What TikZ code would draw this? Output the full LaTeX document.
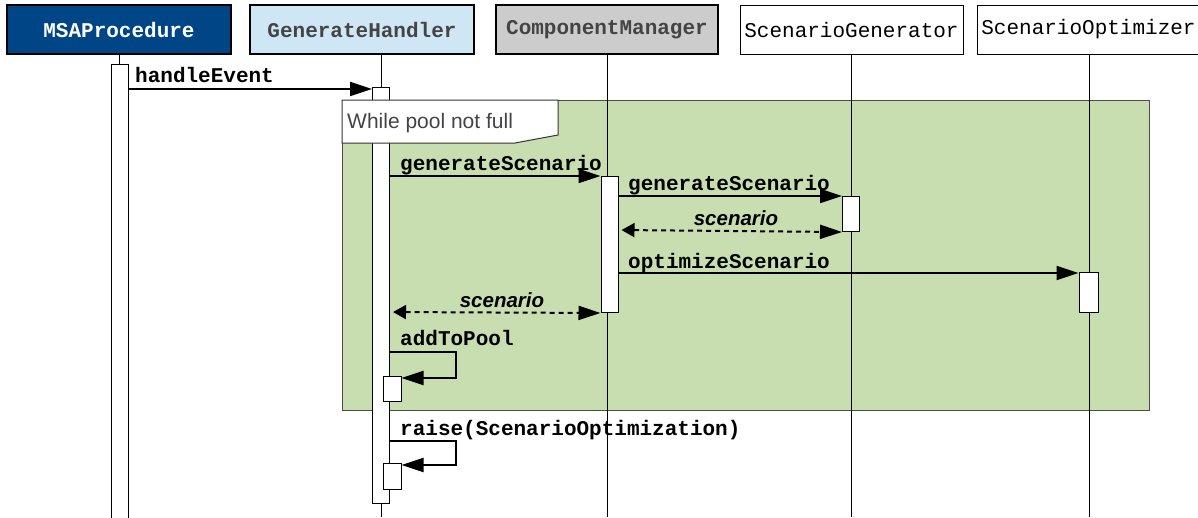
\documentclass[tikz,border=0pt]{standalone}
\usepackage{fontspec}
\setmainfont{Liberation Sans}
\newfontfamily\courfont{Liberation Mono}
\usetikzlibrary{arrows.meta,positioning,calc}
\definecolor{msablue}{RGB}{0,69,134}
\definecolor{handlerblue}{RGB}{207,231,245}
\definecolor{mgrgray}{RGB}{204,204,204}
\definecolor{loopgreen}{RGB}{201,222,176}
\definecolor{textgray}{RGB}{68,68,68}

\begin{document}
\begin{tikzpicture}[x=1pt,y=-1pt,
    hdr/.style={draw,line width=2pt,minimum width=224pt,minimum height=49pt,inner sep=0pt,font=\courfont\bfseries\fontsize{21}{25}\selectfont},
    obj/.style={hdr,line width=1pt,font=\courfont\fontsize{21}{25}\selectfont},
    act/.style={draw,fill=white,line width=1pt,minimum width=17pt,inner sep=0pt,anchor=north},
    life/.style={line width=1pt},
    msg/.style={line width=2pt,-{Triangle[length=22pt,width=14pt]}},
    reply/.style={line width=2pt,dash pattern=on 5pt off 4pt,{Triangle[length=13pt,width=14pt]}-{Triangle[length=22pt,width=14pt]}},
    lbl/.style={anchor=base west,inner sep=0pt,font=\courfont\bfseries\fontsize{21}{25}\selectfont},
    ret/.style={anchor=base,inner sep=0pt,font=\bfseries\itshape\fontsize{20.5}{24}\selectfont}]
    \useasboundingbox (0,0) rectangle (1198,517);
    \clip (0,0) rectangle (1198,517);

    \node[hdr,fill=msablue,text=white]                        (msa) at (119,29.5)    {MSAProcedure};
    \node[hdr,fill=handlerblue,text=textgray]                 (gh)  at (362,29.5)    {GenerateHandler};
    \node[hdr,fill=mgrgray,text=textgray,minimum width=222pt] (cm)  at (607,29.5)    {ComponentManager};
    \node[obj,minimum width=223pt]                            (sg)  at (851.5,29.5)  {ScenarioGenerator};
    \node[obj,minimum width=223pt]                            (so)  at (1088.5,29.5) {ScenarioOptimizer};

    \node[draw=black!70,fill=loopgreen,line width=1pt,minimum width=807pt,minimum height=310pt,anchor=north west] (loop) at (342,100) {};

    \foreach \n/\x in {msa/119,gh/381,cm/607,sg/851,so/1089}
        \draw[life] (\n.south -| \x,0) -- (\x,517);

    \node[act,minimum height=460pt]                  (msaact) at (119.5,64)  {};
    \node[act,minimum height=416pt]                  (ghact)  at (381,87)    {};
    \node[act,minimum height=136pt]                  (cmact)  at (609.5,176) {};
    \node[act,minimum height=35pt]                   (sgact)  at (851,196)   {};
    \node[act,minimum height=40pt,minimum width=19pt] (soact) at (1088.5,272) {};
    \node[act,minimum height=25pt,minimum width=18pt] (pool)  at (392,376)   {};
    \node[act,minimum height=26pt,minimum width=18pt] (raise) at (392,463)   {};

    \draw[draw=black!80,fill=white,line width=1pt] (342,100) -- (558,100) -- (558,135) -- (515,143) -- (342,143) -- cycle;
    \node[anchor=base west,inner sep=0pt,text=textgray,font=\fontsize{21}{25}\selectfont] (cond) at (347,128) {While pool not full};

    \node[lbl] (he)  at (135,82)  {handleEvent};
    \node[lbl] (gs1) at (400,170) {generateScenario};
    \node[lbl] (gs2) at (628,190) {generateScenario};
    \node[ret] (sc1) at (736,225) {scenario};
    \node[lbl] (os)  at (628,268) {optimizeScenario};
    \node[ret] (sc2) at (502,307) {scenario};
    \node[lbl] (atp) at (400,345) {addToPool};
    \node[lbl] (rso) at (400,435) {raise(ScenarioOptimization)};

    \draw[msg] (msaact.east |- 0,89) -- (ghact.west |- 0,89);
    \draw[msg] (ghact.east |- 0,176) -- (cmact.north west);
    \draw[msg] (cmact.east |- 0,196) -- (sgact.north west);
    \draw[reply,shorten <=3pt] (cmact.east |- 0,230) -- (sgact.south west);
    \draw[msg] (cmact.east |- 0,273) -- (soact.west |- 0,273);
    \draw[reply,shorten <=3pt] (ghact.east |- 0,312) -- (cmact.south west);
    \draw[msg] (ghact.east |- 0,352) -- ++(66,0) |- (pool.east |- 0,378);
    \draw[msg] (ghact.east |- 0,441) -- ++(66,0) |- (raise.east |- 0,465);
\end{tikzpicture}
\end{document}
